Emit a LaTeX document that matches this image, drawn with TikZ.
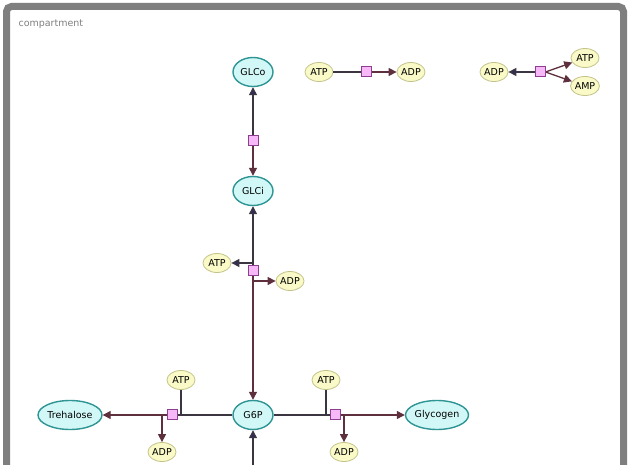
\documentclass[tikz,border=0pt]{standalone}
\usepackage{fontspec}
\setmainfont{DejaVu Sans}
\usetikzlibrary{arrows.meta,shapes.geometric}
\definecolor{cyfill}{HTML}{D2F7F7}
\definecolor{cydraw}{HTML}{2E9494}
\definecolor{yefill}{HTML}{FAFAC8}
\definecolor{yedraw}{HTML}{C2C28A}
\definecolor{rxfill}{HTML}{F7B8F7}
\definecolor{rxdraw}{HTML}{8E3E8E}
\definecolor{maroon}{HTML}{5E2F3C}
\definecolor{navyc}{HTML}{2E2E5C}
\definecolor{linec}{HTML}{3A3540}
\definecolor{framec}{HTML}{7F7F7F}
\tikzset{
  species/.style={ellipse, draw=cydraw, fill=cyfill, line width=1.4pt, minimum width=40pt, minimum height=29pt, inner sep=0pt, font=\fontsize{9.5}{11}\selectfont},
  wide/.style={minimum width=64pt},
  small/.style={ellipse, draw=yedraw, fill=yefill, line width=0.8pt, minimum width=28pt, minimum height=19pt, inner sep=0pt, font=\fontsize{9.5}{11}\selectfont},
  rxn/.style={rectangle, draw=rxdraw, fill=rxfill, line width=1pt, minimum size=10pt, inner sep=0pt},
  sub/.style={draw=linec, line width=1.3pt},
  prod/.style={draw=maroon, line width=1.3pt, -{Triangle[length=8pt,width=8pt]}},
  rev/.style={draw=linec, line width=1.3pt, -{Triangle[length=8pt,width=8pt,fill=navyc]}},
}
\begin{document}
\begin{tikzpicture}[x=1pt,y=-1pt]
\useasboundingbox (0,0) rectangle (630,465);
\fill[white] (0,0) rectangle (630,465);
\begin{scope}
\clip (0,0) rectangle (630,465);
\draw[framec, line width=7pt, rounded corners=5pt] (6.5,480) -- (6.5,6.5) -- (623.5,6.5) -- (623.5,480);
\end{scope}
\node[anchor=west, text=gray, font=\fontsize{9.5}{11}\selectfont] (lbl) at (15,24) {compartment};

% species
\node[species] (glco) at (253,72) {GLCo};
\node[species] (glci) at (253,191) {GLCi};
\node[species] (g6p) at (253,415) {G6P};
\node[species, wide] (tre) at (70,415) {Trehalose};
\node[species, minimum width=62pt] (gly) at (437,415) {Glycogen};

\node[small] (atp1) at (319,72) {ATP};
\node[small] (adp1) at (411,72) {ADP};
\node[small] (adp2) at (494,72) {ADP};
\node[small] (atp2) at (585,58) {ATP};
\node[small] (amp2) at (585,86) {AMP};
\node[small] (atp3) at (217,263) {ATP};
\node[small] (adp3) at (290,281) {ADP};
\node[small] (atp4) at (181,380) {ATP};
\node[small] (adp4) at (162,452) {ADP};
\node[small] (atp5) at (326,380) {ATP};
\node[small] (adp5) at (344,452) {ADP};

% reactions
\node[rxn] (r1) at (253,141) {};
\node[rxn] (r2) at (366,72) {};
\node[rxn] (r3) at (540,72) {};
\node[rxn] (r4) at (253,271) {};
\node[rxn] (r5) at (172,415) {};
\node[rxn] (r6) at (335,415) {};

\coordinate (r4a) at (253,263);
\coordinate (r4b) at (253,281);
\coordinate (r5a) at (181,415);
\coordinate (r5b) at (162,415);
\coordinate (r6a) at (326,415);
\coordinate (r6b) at (344,415);
\coordinate (bot) at (253,470);

% reaction 1
\draw[rev] (r1) -- (glco);
\draw[prod] (r1) -- (glci);
% reaction 2
\draw[sub] (atp1) -- (r2);
\draw[prod] (r2) -- (adp1);
% reaction 3
\draw[rev] (r3) -- (adp2);
\draw[prod] (r3.east) -- (atp2);
\draw[prod] (r3.east) -- (amp2);
% reaction 4
\draw[rev] (r4) -- (glci);
\draw[prod] (r4) -- (g6p);
\draw[rev] (r4a) -- (atp3);
\draw[prod] (r4b) -- (adp3);
% reaction 5
\draw[sub] (g6p) -- (r5);
\draw[prod] (r5) -- (tre);
\draw[sub] (atp4) -- (r5a);
\draw[prod] (r5b) -- (adp4);
% reaction 6
\draw[sub] (g6p) -- (r6);
\draw[prod] (r6) -- (gly);
\draw[sub] (atp5) -- (r6a);
\draw[prod] (r6b) -- (adp5);
% bottom
\draw[rev] (bot) -- (g6p);

% redraw reaction boxes on top
\foreach \r in {r1,r2,r3,r4,r5,r6}{\node[rxn] at (\r) {};}
\end{tikzpicture}
\end{document}
